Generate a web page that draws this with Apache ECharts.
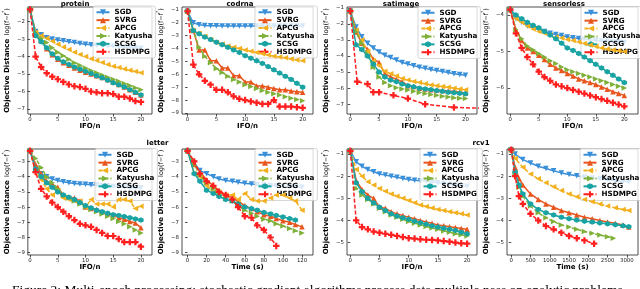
<!DOCTYPE html>
<html><head><meta charset="utf-8">
<script src="https://cdn.jsdelivr.net/npm/echarts@6/dist/echarts.min.js"></script>
<style>html,body{margin:0;padding:0;background:#fff}#c{width:640px;height:289px}</style>
</head><body><div id="c"></div>
<script>
// ---------- data ----------
const seriesNames = ['SGD','SVRG','APCG','Katyusha','SCSG','HSDMPG'];
const panelTitles = ['protein','codrna','satimage','sensorless','letter','rcv1'];
const ifoSteps = [0,1,2,3,4,5,6,7,8,9,10,11,12,13,14,15,16,17,18,19,20];

const ifoTicks = [0,5,10,15,20];
const letterTimeTicks = [0,20,40,60,80,100,120];
const rcv1TimeTicks = [0,500,1000,1500,2000,2500,3000];
const proteinYTicks = [-7,-6,-5,-4,-3,-2];
const codrnaYTicks = [-9,-8,-7,-6,-5,-4,-3,-2,-1];
const satimageYTicks = [-7,-6,-5,-4,-3,-2,-1];
const sensorlessYTicks = [-6,-5,-4];
const letterYTicks = [-9,-8,-7,-6,-5,-4,-3];
const rcv1YTicks = [-5,-4,-3,-2,-1];

// protein (IFO/n)
const proteinSGD = [-1.3,-2.57,-2.75,-2.92,-3.0,-3.05,-3.1,-3.15,-3.2,-3.25,-3.29,-3.32,-3.35,-3.37,-3.39,-3.41,-3.44,-3.46,-3.48,-3.5,-3.52];
const proteinSVRG = [-1.3,-2.76,-3.1,-3.55,-3.9,-4.15,-4.35,-4.5,-4.65,-4.78,-4.9,-5.0,-5.1,-5.2,-5.32,-5.45,-5.6,-5.75,-5.9,-6.05,-6.2];
const proteinAPCG = [-1.3,-2.6,-2.8,-2.95,-3.12,-3.3,-3.45,-3.6,-3.75,-3.88,-4.0,-4.12,-4.23,-4.34,-4.45,-4.55,-4.63,-4.71,-4.79,-4.86,-4.92];
const proteinKatyusha = [-1.3,-2.65,-2.95,-3.2,-3.5,-3.75,-3.95,-4.15,-4.35,-4.5,-4.65,-4.8,-4.93,-5.06,-5.18,-5.3,-5.42,-5.54,-5.66,-5.78,-5.9];
const proteinSCSG = [-1.3,-2.8,-3.15,-3.5,-3.85,-4.1,-4.3,-4.45,-4.6,-4.72,-4.85,-4.97,-5.1,-5.22,-5.35,-5.5,-5.62,-5.75,-5.9,-6.05,-6.2];
const proteinHSDMPG = [-1.3,-4.0,-4.6,-4.95,-5.15,-5.3,-5.45,-5.6,-5.7,-5.75,-5.85,-6.0,-6.05,-6.1,-6.1,-6.15,-6.3,-6.3,-6.4,-6.55,-6.6];

// codrna (IFO/n)
const codrnaSGD = [-1.1,-2.0,-2.15,-2.2,-2.22,-2.23,-2.24,-2.24,-2.24,-2.25,-2.25,-2.25,-2.25,-2.25,-2.25,-2.25,-2.25,-2.25,-2.25,-2.25,-2.25];
const codrnaSVRG = [-1.1,-2.6,-4.1,-4.1,-4.95,-4.95,-5.5,-5.5,-6.1,-6.1,-6.6,-6.6,-6.9,-6.9,-7.0,-7.1,-7.2,-7.2,-7.3,-7.35,-7.4];
const codrnaAPCG = [-1.1,-2.6,-2.8,-3.05,-3.3,-3.5,-3.65,-3.8,-3.9,-4.0,-4.1,-4.2,-4.3,-4.4,-4.5,-4.6,-4.65,-4.72,-4.8,-4.88,-4.95];
const codrnaKatyusha = [-1.1,-2.6,-3.9,-4.6,-5.1,-5.55,-5.85,-6.15,-6.4,-6.6,-6.8,-6.95,-7.1,-7.25,-7.4,-7.5,-7.6,-7.75,-7.85,-7.95,-8.05];
const codrnaSCSG = [-1.1,-2.6,-2.85,-3.1,-3.3,-3.5,-3.7,-3.9,-4.1,-4.3,-4.55,-4.75,-4.95,-5.15,-5.4,-5.65,-5.9,-6.15,-6.4,-6.7,-7.0];
const codrnaHSDMPG = [-1.1,-5.25,-6.0,-6.5,-6.8,-7.2,-7.2,-7.4,-7.7,-7.9,-8.0,-8.1,-8.2,-8.3,-8.3,-8.0,-8.5,-8.5,-8.5,-8.55,-8.6];

// satimage (IFO/n)
const satimageSGD = [-1.2,-2.2,-2.8,-3.2,-3.5,-3.75,-3.95,-4.1,-4.25,-4.4,-4.5,-4.6,-4.7,-4.77,-4.84,-4.9,-4.97,-5.03,-5.1,-5.15,-5.2];
const satimageSVRG = [-1.2,-2.5,-3.2,-3.6,-4.2,-4.4,-5.1,-5.3,-5.45,-5.6,-5.85,-5.9,-6.0,-6.05,-6.1,-6.12,-6.15,-6.18,-6.2,-6.25,-6.3];
const satimageAPCG = [-1.2,-2.4,-3.0,-3.7,-4.3,-4.6,-4.95,-5.1,-5.25,-5.4,-5.5,-5.58,-5.65,-5.72,-5.8,-5.85,-5.9,-5.95,-6.0,-6.05,-6.1];
const satimageKatyusha = [-1.2,-2.5,-3.2,-3.9,-4.7,-5.3,-5.65,-5.85,-5.97,-6.05,-6.12,-6.2,-6.27,-6.33,-6.4,-6.45,-6.5,-6.55,-6.6,-6.63,-6.65];
const satimageSCSG = [-1.2,-3.3,-3.6,-4.0,-4.5,-5.0,-5.3,-5.5,-5.6,-5.75,-5.85,-5.92,-6.0,-6.05,-6.1,-6.15,-6.2,-6.25,-6.28,-6.32,-6.35];
const satimageHSDMPGx = [0,1.2,3,4,5,7.5,10,13,18,22.5];
const satimageHSDMPG = [-1.2,-5.6,-5.75,-6.25,-6.25,-6.45,-6.65,-7.0,-7.2,-7.25];

// sensorless (IFO/n)
const sensorlessSGD = [-3.85,-4.1,-4.2,-4.3,-4.35,-4.4,-4.45,-4.5,-4.53,-4.56,-4.6,-4.62,-4.64,-4.66,-4.68,-4.7,-4.71,-4.72,-4.73,-4.74,-4.75];
const sensorlessSVRG = [-3.85,-4.4,-4.7,-4.9,-5.0,-5.1,-5.22,-5.35,-5.45,-5.52,-5.6,-5.67,-5.75,-5.8,-5.85,-5.9,-5.97,-6.03,-6.1,-6.15,-6.2];
const sensorlessAPCG = [-3.85,-4.1,-4.2,-4.3,-4.38,-4.45,-4.5,-4.55,-4.6,-4.63,-4.67,-4.7,-4.74,-4.78,-4.82,-4.86,-4.9,-4.93,-4.96,-4.98,-5.0];
const sensorlessKatyusha = [-3.85,-4.4,-4.65,-4.85,-4.95,-5.05,-5.15,-5.25,-5.33,-5.42,-5.5,-5.55,-5.6,-5.65,-5.7,-5.75,-5.8,-5.85,-5.9,-5.95,-6.0];
const sensorlessSCSG = [-3.85,-4.0,-4.1,-4.2,-4.28,-4.35,-4.45,-4.55,-4.65,-4.77,-4.9,-4.97,-5.05,-5.15,-5.25,-5.35,-5.45,-5.55,-5.65,-5.75,-5.85];
const sensorlessHSDMPG = [-3.85,-4.5,-4.9,-5.15,-5.35,-5.55,-5.7,-5.8,-5.9,-5.95,-6.0,-6.05,-6.1,-6.15,-6.2,-6.25,-6.3,-6.35,-6.4,-6.45,-6.5];

// letter (IFO/n)
const letterSGD = [-2.3,-3.5,-3.8,-4.0,-4.15,-4.25,-4.33,-4.4,-4.45,-4.48,-4.5,-4.53,-4.55,-4.58,-4.6,-4.65,-4.67,-4.7,-4.72,-4.74,-4.75];
const letterSVRG = [-2.3,-3.2,-3.8,-4.3,-4.5,-4.7,-5.2,-5.35,-5.4,-5.6,-6.0,-6.1,-6.15,-6.3,-6.4,-6.5,-6.7,-6.8,-6.95,-7.05,-7.35];
const letterAPCG = [-2.3,-3.6,-4.2,-4.8,-5.2,-4.9,-5.4,-5.5,-5.6,-5.6,-6.0,-5.5,-5.8,-5.8,-5.8,-6.0,-5.5,-5.5,-5.6,-6.1,-5.95];
const letterKatyusha = [-2.3,-2.8,-3.4,-4.0,-4.4,-4.8,-5.2,-5.4,-5.6,-5.8,-6.0,-6.15,-6.3,-6.45,-6.6,-6.75,-6.95,-7.1,-7.3,-7.5,-7.7];
const letterSCSG = [-2.3,-3.5,-4.0,-4.4,-4.7,-5.0,-5.2,-5.35,-5.5,-5.7,-5.9,-6.05,-6.2,-6.3,-6.4,-6.5,-6.55,-6.62,-6.7,-6.78,-6.85];
const letterHSDMPG = [-2.3,-3.7,-4.8,-5.3,-5.7,-6.0,-6.3,-6.6,-6.85,-7.1,-7.2,-7.3,-7.5,-7.7,-7.9,-7.9,-8.1,-8.3,-8.3,-8.3,-8.6];

// letter (Time, s)
const letterTime = [0,7,13,20,27,33,40,47,53,60,67,73,80,87,93,100,107,113,120];
const letterTimeSGD = [-2.3,-3.1,-3.6,-3.8,-4.0,-4.15,-4.25,-4.3,-4.37,-4.43,-4.48,-4.52,-4.55,-4.58,-4.6,-4.62,-4.65,-4.67,-4.7];
const letterTimeSVRG = [-2.3,-3.2,-3.7,-4.2,-4.6,-4.9,-5.2,-5.4,-5.6,-5.9,-6.1,-6.3,-6.5,-6.6,-6.75,-6.9,-7.0,-7.15,-7.3];
const letterTimeAPCG = [-2.3,-3.8,-4.0,-4.6,-5.0,-5.0,-5.2,-5.2,-5.5,-5.1,-5.5,-5.6,-5.6,-5.4,-5.2,-5.2,-5.4,-5.6,-6.2];
const letterTimeKatyusha = [-2.3,-3.2,-3.9,-4.4,-4.8,-5.1,-5.45,-5.6,-5.9,-6.2,-6.4,-6.6,-6.8,-6.9,-7.1,-7.25,-7.4,-7.55,-7.7];
const letterTimeSCSG = [-2.3,-3.8,-4.3,-4.9,-5.1,-5.3,-5.5,-5.6,-5.8,-6.0,-6.1,-6.2,-6.35,-6.45,-6.55,-6.65,-6.75,-6.85];
const letterTimeHSDMPG = [-2.3,-3.0,-3.8,-4.3,-4.6,-5.0,-5.2,-5.5,-6.0,-6.6,-6.7,-7.2,-7.5,-8.0,-8.55];

// rcv1 (IFO/n)
const rcv1SGD = [-0.85,-1.35,-1.55,-1.7,-1.8,-1.9,-1.95,-2.0,-2.05,-2.1,-2.15,-2.18,-2.2,-2.23,-2.26,-2.3,-2.33,-2.36,-2.4,-2.43,-2.45];
const rcv1SVRG = [-0.85,-2.2,-2.6,-2.85,-3.0,-3.4,-3.45,-3.6,-3.7,-3.78,-3.85,-3.92,-4.0,-4.07,-4.13,-4.2,-4.24,-4.28,-4.32,-4.36,-4.4];
const rcv1APCG = [-0.85,-1.7,-2.0,-2.25,-2.4,-2.55,-2.68,-2.8,-2.9,-3.0,-3.1,-3.2,-3.3,-3.37,-3.44,-3.5,-3.55,-3.6,-3.65,-3.7,-3.75];
const rcv1Katyusha = [-0.85,-2.55,-2.85,-3.05,-3.25,-3.45,-3.6,-3.75,-3.85,-3.95,-4.05,-4.12,-4.2,-4.27,-4.34,-4.4,-4.47,-4.53,-4.6,-4.65,-4.7];
const rcv1SCSG = [-0.85,-2.3,-2.7,-3.0,-3.2,-3.4,-3.55,-3.7,-3.8,-3.88,-3.95,-4.03,-4.1,-4.17,-4.24,-4.3,-4.35,-4.4,-4.45,-4.53,-4.6];
const rcv1HSDMPG = [-0.85,-4.0,-4.3,-4.4,-4.5,-4.55,-4.6,-4.65,-4.7,-4.75,-4.8,-4.82,-4.85,-4.87,-4.88,-4.9,-4.93,-4.96,-5.0,-5.03,-5.05];

// rcv1 (Time, s)
const rcv1TimeA = [0,100,300,500,700,900,1100,1300,1500,1700,1900,2100,2300,2500,2700,2900,3050];
const rcv1TimeB = [0,100,200,300,500,700,900,1100,1300,1500,1700,1900,2100,2300,2500,2700,2900,3050];
const rcv1TimeKat = [0,100,200,300,500,700,900,1100,1300,1500,1700,1900,2100,2300,2500,2650];
const rcv1TimeHS = [0,100,200,300,500,700,900,1100,1300,1500,1700,1900,2150];
const rcv1TimeSGD = [-0.8,-1.0,-1.25,-1.4,-1.55,-1.65,-1.75,-1.85,-1.92,-1.98,-2.03,-2.08,-2.12,-2.16,-2.2,-2.23,-2.25];
const rcv1TimeAPCG = [-0.8,-1.2,-1.6,-1.9,-2.12,-2.3,-2.48,-2.65,-2.8,-2.93,-3.05,-3.15,-3.25,-3.35,-3.43,-3.5,-3.55];
const rcv1TimeSVRG = [-0.8,-1.6,-2.1,-2.4,-2.8,-3.05,-3.25,-3.4,-3.55,-3.65,-3.75,-3.85,-3.92,-4.0,-4.07,-4.13,-4.2,-4.3];
const rcv1TimeSCSG = [-0.8,-1.8,-2.4,-2.8,-3.25,-3.5,-3.65,-3.75,-3.85,-3.92,-3.98,-4.03,-4.07,-4.11,-4.15,-4.19,-4.24,-4.28];
const rcv1TimeKatyusha = [-0.8,-1.9,-2.5,-2.9,-3.35,-3.65,-3.88,-4.05,-4.2,-4.3,-4.4,-4.5,-4.58,-4.66,-4.74,-4.8];
const rcv1TimeHSDMPG = [-0.8,-2.0,-2.9,-3.25,-3.7,-4.0,-4.25,-4.4,-4.55,-4.7,-4.8,-4.9,-5.05];

const captionText = 'Figure 2: Multi-epoch processing: stochastic gradient algorithms process data multiple pass on analytic problems';

// ---------- styling / layout ----------
const FONT = 'DejaVu Sans';
const colors = {SGD:'#3a8fd9', SVRG:'#e8561e', APCG:'#f2b01e', Katyusha:'#7fb13a', SCSG:'#1aa3a3', HSDMPG:'#ff1f1f'};
const lineTypes = {SGD:'solid', SVRG:'solid', APCG:[4,2], Katyusha:[4,2], SCSG:'solid', HSDMPG:[4,2]};
const symbols = {
  SGD:'path://M0,0L10,0L5,9Z',
  SVRG:'path://M5,0L10,9L0,9Z',
  APCG:'path://M9,0L9,10L0,5Z',
  Katyusha:'path://M0,0L0,10L9,5Z',
  SCSG:'path://M5,0L9.33,2.5L9.33,7.5L5,10L0.67,7.5L0.67,2.5Z',
  HSDMPG:'path://M3.3,0H6.7V3.3H10V6.7H6.7V10H3.3V6.7H0V3.3H3.3Z'
};
const symbolSizes = {SGD:5.5, SVRG:5.5, APCG:5.5, Katyusha:5.5, SCSG:5.5, HSDMPG:6.5};

const zip = (xs, ys) => ys.map((y, i) => [xs[i], y]);

const panels = [
  {grid:{left:22,top:7,width:130,height:107}, x:[-0.4,22], y:[-7.29,-1.16], xt:ifoTicks, yt:proteinYTicks, xName:'IFO/n',
   data:[zip(ifoSteps,proteinSGD),zip(ifoSteps,proteinSVRG),zip(ifoSteps,proteinAPCG),zip(ifoSteps,proteinKatyusha),zip(ifoSteps,proteinSCSG),zip(ifoSteps,proteinHSDMPG)],
   legend:{left:93,top:6}},
  {grid:{left:182,top:7,width:131,height:107}, x:[-0.97,21.8], y:[-9.08,-0.77], xt:ifoTicks, yt:codrnaYTicks, xName:'IFO/n',
   data:[zip(ifoSteps,codrnaSGD),zip(ifoSteps,codrnaSVRG),zip(ifoSteps,codrnaAPCG),zip(ifoSteps,codrnaKatyusha),zip(ifoSteps,codrnaSCSG),zip(ifoSteps,codrnaHSDMPG)],
   legend:{left:255,top:6}},
  {grid:{left:347,top:7,width:130,height:107}, x:[-0.57,22.0], y:[-7.61,-0.95], xt:ifoTicks, yt:satimageYTicks, xName:'IFO/n',
   data:[zip(ifoSteps,satimageSGD),zip(ifoSteps,satimageSVRG),zip(ifoSteps,satimageAPCG),zip(ifoSteps,satimageKatyusha),zip(ifoSteps,satimageSCSG),zip(satimageHSDMPGx,satimageHSDMPG)],
   legend:{left:418,top:6.5}},
  {grid:{left:507,top:7,width:131,height:107}, x:[-0.57,22.4], y:[-6.71,-3.78], xt:ifoTicks, yt:sensorlessYTicks, xName:'IFO/n',
   data:[zip(ifoSteps,sensorlessSGD),zip(ifoSteps,sensorlessSVRG),zip(ifoSteps,sensorlessAPCG),zip(ifoSteps,sensorlessKatyusha),zip(ifoSteps,sensorlessSCSG),zip(ifoSteps,sensorlessHSDMPG)],
   legend:{left:581,top:6.5}},
  {grid:{left:22,top:149,width:130,height:106}, x:[-0.4,22], y:[-9.15,-2.18], xt:ifoTicks, yt:letterYTicks, xName:'IFO/n',
   data:[zip(ifoSteps,letterSGD),zip(ifoSteps,letterSVRG),zip(ifoSteps,letterAPCG),zip(ifoSteps,letterKatyusha),zip(ifoSteps,letterSCSG),zip(ifoSteps,letterHSDMPG)],
   legend:{left:95,top:148.5}},
  {grid:{left:182,top:149,width:131,height:106}, x:[-5.8,131.5], y:[-9.15,-2.18], xt:letterTimeTicks, yt:letterYTicks, xName:'Time (s)',
   data:[zip(letterTime,letterTimeSGD),zip(letterTime,letterTimeSVRG),zip(letterTime,letterTimeAPCG),zip(letterTime,letterTimeKatyusha),zip(letterTime,letterTimeSCSG),zip(letterTime,letterTimeHSDMPG)],
   legend:{left:255,top:148.5}},
  {grid:{left:347,top:149,width:130,height:106}, x:[-0.57,21.7], y:[-5.56,-0.77], xt:ifoTicks, yt:rcv1YTicks, xName:'IFO/n',
   data:[zip(ifoSteps,rcv1SGD),zip(ifoSteps,rcv1SVRG),zip(ifoSteps,rcv1APCG),zip(ifoSteps,rcv1Katyusha),zip(ifoSteps,rcv1SCSG),zip(ifoSteps,rcv1HSDMPG)],
   legend:{left:420,top:148.5}},
  {grid:{left:507,top:149,width:131,height:106}, x:[-111,3290], y:[-5.56,-0.77], xt:rcv1TimeTicks, yt:rcv1YTicks, xName:'Time (s)',
   data:[zip(rcv1TimeA,rcv1TimeSGD),zip(rcv1TimeB,rcv1TimeSVRG),zip(rcv1TimeA,rcv1TimeAPCG),zip(rcv1TimeKat,rcv1TimeKatyusha),zip(rcv1TimeB,rcv1TimeSCSG),zip(rcv1TimeHS,rcv1TimeHSDMPG)],
   legend:{left:580,top:148.5}}
];

const minus = v => String(v).replace('-', '\u2212');

const option = {
  animation: false,
  backgroundColor: '#fff',
  grid: panels.map(p => Object.assign({show:true, borderColor:'#222', borderWidth:0.8, backgroundColor:'transparent'}, p.grid)),
  xAxis: panels.map((p, i) => ({
    type:'value', gridIndex:i, min:p.x[0], max:p.x[1],
    axisLine:{show:false}, splitLine:{show:false},
    axisTick:{show:true, inside:false, length:2.5, customValues:p.xt, lineStyle:{color:'#222', width:0.8}},
    axisLabel:{customValues:p.xt, formatter:minus, fontFamily:FONT, fontSize:5.4, color:'#222', margin:3},
    name:p.xName, nameLocation:'middle', nameGap:8,
    nameTextStyle:{fontFamily:FONT, fontWeight:'bold', fontSize:7, color:'#000', verticalAlign:'top'}
  })),
  yAxis: panels.map((p, i) => ({
    type:'value', gridIndex:i, min:p.y[0], max:p.y[1],
    axisLine:{show:false}, splitLine:{show:false},
    axisTick:{show:true, inside:false, length:2.5, customValues:p.yt, lineStyle:{color:'#222', width:0.8}},
    axisLabel:{customValues:p.yt, formatter:minus, fontFamily:FONT, fontSize:5.4, color:'#222', margin:3},
    name:'{b|Objective Distance} {m|log(f\u2212f}{s|*}{m|)}',
    nameLocation:'middle', nameGap:14, nameRotate:90,
    nameTextStyle:{rich:{
      b:{fontFamily:FONT, fontWeight:'bold', fontSize:7, color:'#000'},
      m:{fontFamily:FONT, fontSize:6.5, color:'#000'},
      s:{fontFamily:FONT, fontSize:4.5, color:'#000', verticalAlign:'top'}
    }}
  })),
  legend: panels.map(p => ({
    left:p.legend.left, top:p.legend.top, orient:'vertical', data:seriesNames,
    selectedMode:false, itemWidth:13, itemHeight:7.5, itemGap:0.4,
    padding:[2.5,3,2.5,2.5], backgroundColor:'rgba(255,255,255,0.8)',
    borderColor:'#cccccc', borderWidth:0.8, borderRadius:2,
    textStyle:{fontFamily:FONT, fontWeight:'bold', fontSize:7.2, color:'#000', lineHeight:7.5}
  })),
  graphic: [
    {type:'text', x:75, y:4, style:{text:'protein', align:'center', verticalAlign:'middle', font:'bold 7px "DejaVu Sans"', fill:'#000'}},
    {type:'text', x:240, y:4, style:{text:'codrna', align:'center', verticalAlign:'middle', font:'bold 7px "DejaVu Sans"', fill:'#000'}},
    {type:'text', x:401, y:4, style:{text:'satimage', align:'center', verticalAlign:'middle', font:'bold 7px "DejaVu Sans"', fill:'#000'}},
    {type:'text', x:564, y:4, style:{text:'sensorless', align:'center', verticalAlign:'middle', font:'bold 7px "DejaVu Sans"', fill:'#000'}},
    {type:'text', x:157.5, y:143.5, style:{text:'letter', align:'center', verticalAlign:'middle', font:'bold 7px "DejaVu Sans"', fill:'#000'}},
    {type:'text', x:481, y:143.5, style:{text:'rcv1', align:'center', verticalAlign:'middle', font:'bold 7px "DejaVu Sans"', fill:'#000'}},
    {type:'text', x:12, y:283, style:{text:captionText, align:'left', verticalAlign:'top', font:'13.5px "Liberation Serif"', fill:'#000'}}
  ],
  series: []
};

panels.forEach((p, i) => {
  seriesNames.forEach((name, k) => {
    option.series.push({
      type:'line', name:name, xAxisIndex:i, yAxisIndex:i, data:p.data[k],
      symbol:symbols[name], symbolSize:symbolSizes[name], showSymbol:true,
      color:colors[name], itemStyle:{color:colors[name]},
      lineStyle:{color:colors[name], width:1.5, type:lineTypes[name]},
      emphasis:{disabled:true}, silent:true, z:2 + k
    });
  });
});

const chart = echarts.init(document.getElementById('c'), null, {renderer:'canvas'});
chart.setOption(option);
</script></body></html>
